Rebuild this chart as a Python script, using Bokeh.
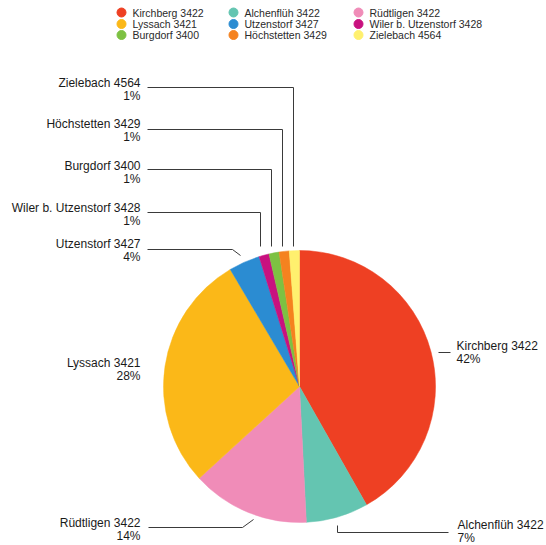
import numpy as np
from bokeh.plotting import figure
from bokeh.models import Range1d, ColumnDataSource
from bokeh.core.properties import value
from bokeh.embed import file_html
from bokeh.resources import INLINE

# ---- data ----
categories = ["Kirchberg 3422", "Alchenflüh 3422", "Rüdtligen 3422", "Lyssach 3421",
              "Utzenstorf 3427", "Wiler b. Utzenstorf 3428", "Burgdorf 3400",
              "Höchstetten 3429", "Zielebach 4564"]
shares = [41.8, 7.4, 14.0, 28.3, 3.7, 1.2, 1.2, 1.2, 1.2]
pct_labels = ["42%", "7%", "14%", "28%", "4%", "1%", "1%", "1%", "1%"]
colors = ["#ee4023", "#64c5b1", "#f08cb8", "#fbb818", "#2b8cd2",
          "#c8117f", "#7dc142", "#f5821f", "#fff06e"]
legend_order = ["Kirchberg 3422", "Alchenflüh 3422", "Rüdtligen 3422",
                "Lyssach 3421", "Utzenstorf 3427", "Wiler b. Utzenstorf 3428",
                "Burgdorf 3400", "Höchstetten 3429", "Zielebach 4564"]

W, H = 546, 545
FONT = value("Liberation Sans")
p = figure(width=W, height=H, output_backend="svg", toolbar_location=None,
           x_range=Range1d(0, W), y_range=Range1d(-H, 0),
           x_axis_location=None, y_axis_location=None, min_border=0,
           outline_line_color=None)
p.grid.visible = False

# ---- pie ----
cx, cy, r = 299, -386, 136
frac = np.array(shares) / np.sum(shares)
cum = np.concatenate([[0], np.cumsum(frac)])
start = np.pi / 2 - 2 * np.pi * cum[:-1]
end = np.pi / 2 - 2 * np.pi * cum[1:]
src = ColumnDataSource(dict(start=start, end=end, color=colors))
p.wedge(x=cx, y=cy, radius=r, start_angle="start", end_angle="end",
        direction="clock", fill_color="color", line_color="color",
        line_width=0.5, source=src)

# ---- labels (layout) ----
# (text x, line1 y, align)
label_pos = {
    "Kirchberg 3422": (456, 345, "left"),
    "Alchenflüh 3422": (457, 524, "left"),
    "Rüdtligen 3422": (140, 522, "right"),
    "Lyssach 3421": (140, 362, "right"),
    "Utzenstorf 3427": (140, 243, "right"),
    "Wiler b. Utzenstorf 3428": (140, 207, "right"),
    "Burgdorf 3400": (140, 165, "right"),
    "Höchstetten 3429": (140, 123, "right"),
    "Zielebach 4564": (140, 82, "right"),
}
leaders = {
    "Kirchberg 3422": [(438, 352), (450, 352)],
    "Alchenflüh 3422": [(337, 525), (337, 532), (448, 532)],
    "Rüdtligen 3422": [(148, 527), (242, 527), (253, 519)],
    "Utzenstorf 3427": [(147, 249), (232, 249), (240, 255)],
    "Wiler b. Utzenstorf 3428": [(147, 212), (260, 212), (260, 246)],
    "Burgdorf 3400": [(147, 169), (271, 169), (271, 246)],
    "Höchstetten 3429": [(147, 129), (282, 129), (282, 246)],
    "Zielebach 4564": [(147, 87), (293, 87), (293, 246)],
}
xs = [[pt[0] for pt in v] for v in leaders.values()]
ys = [[-pt[1] for pt in v] for v in leaders.values()]
p.multi_line(xs=xs, ys=ys, line_color="#3a3a3a", line_width=1)

for name, pct in zip(categories, pct_labels):
    tx, ty, al = label_pos[name]
    p.text(x=[tx], y=[-ty], text=[name], text_align=al, text_baseline="middle",
           text_font=FONT, text_font_size="12px", text_color="#1a1a1a")
    p.text(x=[tx], y=[-(ty + 13.5)], text=[pct], text_align=al, text_baseline="middle",
           text_font=FONT, text_font_size="12px", text_color="#1a1a1a")

# ---- legend (manual, 3 columns) ----
col_x = [121, 233, 358]
row_y = [12, 23.5, 34.5]
lx, ly, lc, lt = [], [], [], []
for i, name in enumerate(legend_order):
    c = colors[categories.index(name)]
    lx.append(col_x[i % 3]); ly.append(-row_y[i // 3]); lc.append(c); lt.append(name)
p.scatter(x=lx, y=ly, size=9, marker="circle", fill_color=lc, line_color=lc)
p.text(x=[v + 11 for v in lx], y=ly, text=lt, text_align="left", text_baseline="middle",
       text_font=FONT, text_font_size="10.5px", text_color="#2a2a2a")

open("out.html", "w").write(file_html(p, INLINE))
